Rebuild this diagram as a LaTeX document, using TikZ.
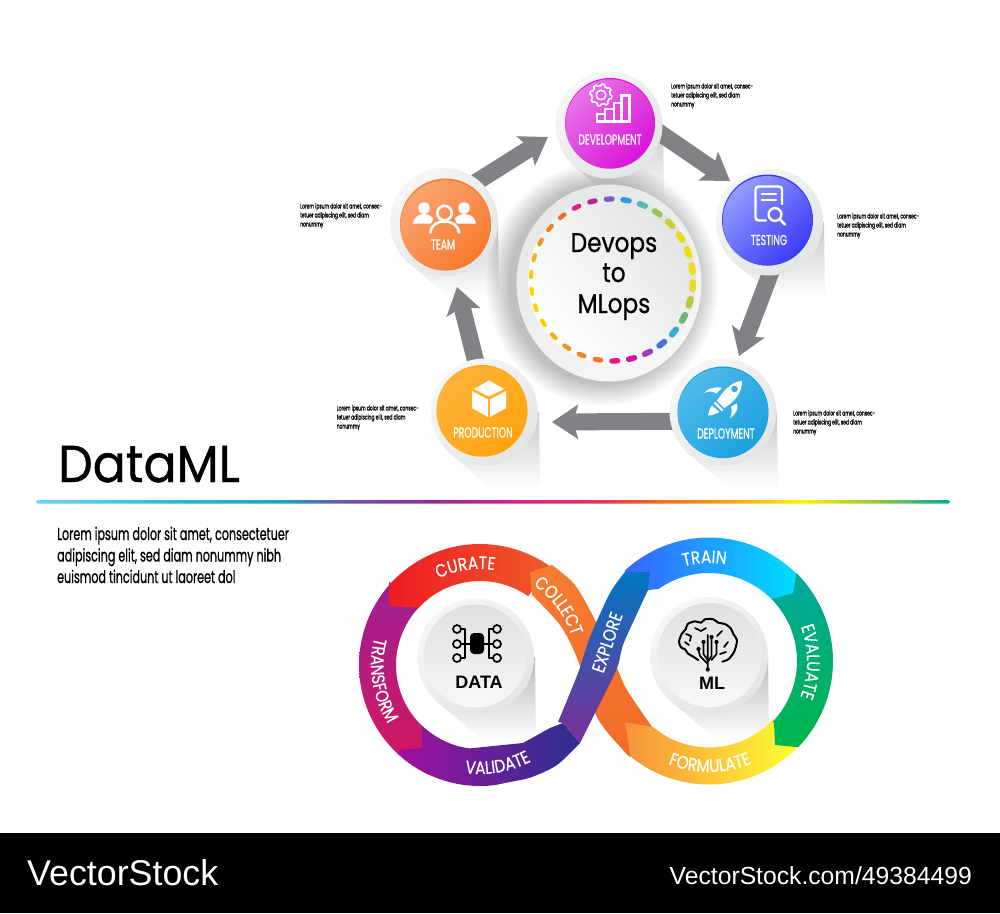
\documentclass[tikz,border=0pt]{standalone}
\usepackage{fontspec}
\setmainfont{Poppins}
\newfontfamily\cfont[FakeStretch=0.638,FakeBold=0.7]{Poppins}
\newfontfamily\ringf[FakeStretch=0.85,FakeBold=0.5]{Poppins}
\newfontfamily\hubf[FakeStretch=0.86,FakeBold=0.7]{Poppins}
\newfontfamily\titlef[FakeStretch=0.94,FakeBold=0.8]{Poppins}
\newfontfamily\af{Liberation Sans}
\usetikzlibrary{arrows.meta,decorations.text,calc,shapes.geometric}
\definecolor{barA}{HTML}{6FD3F5}\definecolor{barB}{HTML}{1FB8CF}\definecolor{barC}{HTML}{15A9BE}
\definecolor{barD}{HTML}{6A5AA8}\definecolor{barE}{HTML}{8E2E96}\definecolor{barF}{HTML}{D9208A}
\definecolor{barG}{HTML}{ED2F5A}\definecolor{barH}{HTML}{F26A21}\definecolor{barI}{HTML}{F9A21A}
\definecolor{barJ}{HTML}{FFF200}\definecolor{barK}{HTML}{8DC63F}\definecolor{barL}{HTML}{00A99D}
\definecolor{arrowgrey}{HTML}{808285}
\definecolor{rimA}{HTML}{F5F6F6}\definecolor{rimB}{HTML}{E3E5E5}
\definecolor{devD}{HTML}{D815D8}\definecolor{devL}{HTML}{E873E6}
\definecolor{teamD}{HTML}{F67A2F}\definecolor{teamL}{HTML}{FAA470}
\definecolor{testD}{HTML}{3A3CF5}\definecolor{testL}{HTML}{949CFF}
\definecolor{prodD}{HTML}{FFA412}\definecolor{prodL}{HTML}{FFB338}
\definecolor{depD}{HTML}{1BA0E0}\definecolor{depL}{HTML}{4FB9E9}
\definecolor{gE8}{HTML}{E6E8E8}\definecolor{gF6}{HTML}{F6F6F6}\definecolor{gE4}{HTML}{E2E4E4}
\definecolor{gDF}{HTML}{DFDFDF}\definecolor{gF8}{HTML}{F8F8F8}
\definecolor{trA}{HTML}{9C1F96}\definecolor{trB}{HTML}{D8175A}
\definecolor{vaA}{HTML}{A0109E}\definecolor{vaB}{HTML}{2B3090}
\definecolor{cuA}{HTML}{ED1C24}\definecolor{cuB}{HTML}{F15A29}
\definecolor{coA}{HTML}{F47D30}\definecolor{coB}{HTML}{F36A2A}
\definecolor{foA}{HTML}{F7913A}\definecolor{foB}{HTML}{FFAE2E}\definecolor{foC}{HTML}{FFFF33}
\definecolor{evA}{HTML}{00A79D}\definecolor{evB}{HTML}{00B54A}
\definecolor{trnA}{HTML}{3A63FF}\definecolor{trnB}{HTML}{00DDFF}
\definecolor{exA}{HTML}{0077C0}\definecolor{exB}{HTML}{2F63B5}\definecolor{exC}{HTML}{7E2E96}
\pgfdeclarehorizontalshading{rainbowbar}{100bp}{color(0bp)=(barA);color(25bp)=(barA);color(33.4bp)=(barB);color(38.3bp)=(barC);color(41.6bp)=(barD);color(46.5bp)=(barE);color(51.5bp)=(barF);color(55.9bp)=(barG);color(59.1bp)=(barH);color(63bp)=(barI);color(66.8bp)=(barJ);color(71.2bp)=(barK);color(75bp)=(barL);color(100bp)=(barL)}
\newcommand{\arcp}[5]{-- plot[domain=#4:#5,samples=40,variable=\t]({#1+#3*cos(\t)},{#2-#3*sin(\t)})}
\newcommand{\arcq}[5]{plot[domain=#4:#5,samples=40,variable=\t]({#1+#3*cos(\t)},{#2-#3*sin(\t)})}
\newcommand{\longshadow}[4]{\shade[top color=black!#4,bottom color=white] ({#1+#3},{#2}) -- ({#1+#3+1},{#2+1.4*#3}) -- ({#1+0.1*#3},{#2+1.4*#3}) -- ({#1-0.72*#3},{#2+0.7*#3}) -- cycle;}
\newcommand{\ringtext}[6]{\path[decorate,decoration={text along path,text align=center,text color=white,text={|\ringf\fontsize{18}{18}\selectfont|#6}}] \arcq{#1}{#2}{#3}{#4}{#5};}
\tikzset{
 x=1pt,y=-1pt,
 rimanchor/.style={circle,inner sep=0pt,minimum size=#1},
 rimdisc/.style={circle,inner sep=0pt,minimum size=#1,top color=rimA,bottom color=rimB,shading angle=40},
 lab/.style={text=white,inner sep=0pt,font=\cfont\fontsize{14.5}{14.5}\selectfont},
 smalltext/.style={anchor=north west,inner sep=0pt,align=left,text=black,font=\cfont\fontsize{7}{9}\selectfont},
 blockarrow/.style={draw=arrowgrey,line width=17pt,shorten <=-8pt,-{Stealth[length=26pt,width=34pt,inset=5pt,fill=arrowgrey]}},
 iconl/.style={draw=white,line width=#1,line cap=round,line join=round},
 darkl/.style={draw=black,line width=#1,line cap=round,line join=round},
 colordisc/.style n args={3}{circle,inner sep=0pt,minimum size=#1,top color=#2,bottom color=#3,shading angle=45},
 basedisc/.style={circle,inner sep=0pt,minimum size=#1},
 hubtext/.style={inner sep=0pt,anchor=base,font=\hubf\fontsize{27}{27}\selectfont},
 introtext/.style={inner sep=0pt,anchor=base west,font=\cfont\fontsize{17.5}{21.5}\selectfont},
}
\begin{document}
\begin{tikzpicture}
\useasboundingbox (0,0) rectangle (1000,913);
\fill[white] (0,0) rectangle (1000,913);
% long shadows
\longshadow{609}{125}{54}{22}
\longshadow{444}{222}{54}{22}
\longshadow{770}{222}{54}{22}
\longshadow{485}{412}{54}{22}
\longshadow{723}{412}{54}{22}
\longshadow{476}{657}{59}{28}
\longshadow{709}{656}{59}{28}
% halo of the central disc
\foreach \i in {1,...,16} \fill[black,fill opacity=0.014] (603,284) ellipse [x radius=92.5pt+\i*1.5pt,y radius=98pt+\i*1.5pt];
% central disc
\node[ellipse,inner sep=0pt,minimum width=185pt,minimum height=197pt,top color=gE8,bottom color=gF6,shading angle=30] (hubrim) at (609,283) {};
\node[circle,inner sep=0pt,minimum size=168pt,top color=gE4,bottom color=white,shading angle=-50] (hub) at (612,280) {};
\foreach \i/\c in {0/7B5CC0,1/2F9BE8,2/5AB5B5,3/9AC35A,4/C8CF3A,5/E8DC14,6/EEDD10,7/F0DF10,8/E8DC20,9/B8C83C,10/70B878,11/3DA9D8,12/4A6FDC,13/9A3FB8,14/D4149C,15/EE1480,16/F7762A,17/F7862A,18/F7921E,19/FBB010,20/FFCC00,21/FFD400,22/FFD400,23/FFC90E,24/FBAE17,25/F99020,26/F7802A,27/F26B30,28/ED1A8C,29/B5259E} {
  \definecolor{dashcol}{HTML}{\c}
  \pgfmathsetmacro{\ang}{92-12*\i}
  \pgfmathsetmacro{\hw}{2.05+0.25*cos(\ang)}
  \pgfmathsetmacro{\thk}{5.3+1.2*cos(\ang)}
  \draw[dashcol,line cap=round,line width=\thk pt] ({612+81*cos(\ang+\hw)},{280-81*sin(\ang+\hw)}) -- ({612+81*cos(\ang-\hw)},{280-81*sin(\ang-\hw)});
}
\node[hubtext] (hubA) at (614,252) {Devops};
\node[hubtext] (hubB) at (614,282) {to};
\node[hubtext] (hubC) at (614,313) {MLops};
% unpainted circles give the arrows their start anchors
\node[rimanchor=107pt] (dev) at (609,125) {};
\node[rimanchor=108pt] (team) at (444,222) {};
\node[rimanchor=107pt] (test) at (769.5,222) {};
\node[rimanchor=107pt] (prod) at (484.5,412) {};
\node[rimanchor=107pt] (depl) at (723,412) {};
% tips
\coordinate (tipA) at (548,137);
\coordinate (tipB) at (730,181);
\coordinate (tipC) at (739,356);
\coordinate (tipD) at (552,422);
\coordinate (tipE) at (457,287);
\draw[blockarrow] (team.50) -- (tipA);
\draw[blockarrow] (dev.-10) -- (tipB);
\draw[blockarrow] (test.-90) -- (tipC);
\draw[blockarrow] (depl.190) -- (tipD);
\draw[blockarrow] (prod.100) -- (tipE);
% rims over the shaft starts
\node[rimdisc=107pt] (devb) at (609,125) {};
\node[rimdisc=108pt] (teamb) at (444,222) {};
\node[rimdisc=107pt] (testb) at (769.5,222) {};
\node[rimdisc=107pt] (prodb) at (484.5,412) {};
\node[rimdisc=107pt] (deplb) at (723,412) {};
% coloured discs
\node[basedisc=90pt,fill=devD] (devr) at (610,123) {};
\node[colordisc={89.5pt}{devL}{devD}] (devc) at (610,124) {};
\node[basedisc=91pt,fill=teamD] (teamr) at (445.5,224) {};
\node[colordisc={90.5pt}{teamL}{teamD}] (teamc) at (445.5,225.4) {};
\node[basedisc=91pt,fill=testD] (testr) at (767.5,220) {};
\node[colordisc={89.5pt}{testL}{testD}] (testc) at (767.5,220.8) {};
\node[basedisc=91pt,fill=prodD] (prodr) at (482,410.5) {};
\node[colordisc={90.5pt}{prodL}{prodD}] (prodc) at (482,411.5) {};
\node[basedisc=91pt,fill=depD] (deplr) at (723,412) {};
\node[colordisc={90.5pt}{depL}{depD}] (deplc) at (723,413) {};
% labels
\node[lab] (ldev) at (610,139.5) {DEVELOPMENT};
\node[lab] (lteam) at (443,244.5) {TEAM};
\node[lab] (ltest) at (769,240) {TESTING};
\node[lab] (lprod) at (483,432.5) {PRODUCTION};
\node[lab] (ldepl) at (726,433.5) {DEPLOYMENT};
% development icon
\draw[iconl=1.5pt] plot[domain=0:360,samples=145,variable=\t] ({601+(9.2+1.8*(sin(8*\t)>0))*cos(\t)},{95+(9.2+1.8*(sin(8*\t)>0))*sin(\t)}) -- cycle;
\draw[iconl=1.5pt] (601,95) circle [radius=4.8pt];
\draw[iconl=2.2pt,line cap=butt,line join=miter] (597,121.5) -- (597,114) -- (605,114) -- (605,121.5) -- cycle
 (605,121.5) -- (605,109) -- (614,109) -- (614,121.5)
 (614,121.5) -- (614,103) -- (621.5,103) -- (621.5,121.5)
 (621.5,121.5) -- (621.5,95.5) -- (629.5,95.5) -- (629.5,121.5) -- (605,121.5);
% team icon
\fill[white] (424,208) circle [radius=5.8pt];
\fill[white] (464,208) circle [radius=5.8pt];
\fill[white] (413,223.5) .. controls (414,216) and (420,214) .. (424,214) .. controls (428,214) and (431,216) .. (433,218) .. controls (433,220) and (432,222) .. (431,223.5) -- cycle;
\fill[white] (476,223.5) .. controls (475,216) and (469,214) .. (464,214) .. controls (460,214) and (457,216) .. (455,218) .. controls (455,220) and (456,222) .. (457,223.5) -- cycle;
\draw[iconl=2.6pt] (444.5,213) circle [radius=7.2pt];
\draw[iconl=2.6pt] (430.5,232.5) .. controls (431,225) and (437,221.5) .. (444.5,221.5) .. controls (452,221.5) and (458,225) .. (459,232.5);
% testing icon
\draw[iconl=2.4pt] (782,204) -- (782,190) .. controls (782,187.5) and (781,186.5) .. (778.5,186.5) -- (759,186.5) .. controls (756.5,186.5) and (755.5,187.5) .. (755.5,190) -- (755.5,217) .. controls (755.5,219.5) and (756.5,220.5) .. (759,220.5) -- (766,220.5);
\draw[iconl=2.2pt] (762,194) -- (776,194) (762,200) -- (776,200);
\draw[iconl=2.4pt] (775,214.5) circle [radius=6.4pt];
\draw[iconl=2.6pt] (780,219.5) -- (785,224.5);
% production icon
\fill[white] (489,380.5) -- (504,389) -- (489,396.5) -- (474,389) -- cycle;
\fill[white] (472,391) -- (488,399.5) -- (488,417) -- (472,408) -- cycle;
\fill[white] (506,391) -- (490,399.5) -- (490,417) -- (506,408) -- cycle;
% deployment icon
\fill[white] (742,381) .. controls (735,381) and (725,387) .. (717,401) -- (724.3,408) .. controls (736,401) and (742,392) .. (742,381) -- cycle;
\fill[depD!85!white] (734.5,389) circle [radius=3.3pt];
\draw[white,line width=2.4pt] (714.5,402.5) -- (722.5,410.5);
\fill[white] (712,405.5) .. controls (710,408) and (708.5,412) .. (708,415.5) .. controls (712,415.5) and (716.5,413.5) .. (719.5,412) -- cycle;
\fill[white] (703.3,393.5) .. controls (708,388) and (715,386.5) .. (722,387.8) -- (716.5,393.5) .. controls (712,390.5) and (708,391) .. (703.3,393.5) -- cycle;
\fill[white] (736.7,403.3) .. controls (739,408) and (736,414) .. (730,418.3) .. controls (732,413) and (732,409) .. (731,406.7) -- cycle;
% small texts
\node[smalltext] (tteam) at (300,203) {Lorem ipsum dolor sit amet, consec-\\tetuer adipiscing elit, sed diam\\nonummy};
\node[smalltext] (tdev) at (671,83) {Lorem ipsum dolor sit amet, consec-\\tetuer adipiscing elit, sed diam\\nonummy};
\node[smalltext] (ttest) at (837,213) {Lorem ipsum dolor sit amet, consec-\\tetuer adipiscing elit, sed diam\\nonummy};
\node[smalltext] (tprod) at (336.5,405) {Lorem ipsum dolor sit amet, consec-\\tetuer adipiscing elit, sed diam\\nonummy};
\node[smalltext] (tdepl) at (793,410) {Lorem ipsum dolor sit amet, consec-\\tetuer adipiscing elit, sed diam\\nonummy};
% title, divider, intro
\node[inner sep=0pt,anchor=base west,font=\titlef\fontsize{52}{52}\selectfont] (title) at (58,482) {DataML};
\shade[shading=rainbowbar,rounded corners=1.7pt] (36,500) rectangle (950,503.6);
\node[introtext] (introA) at (57,540) {Lorem ipsum dolor sit amet, consectetuer};
\node[introtext] (introB) at (57,561.5) {adipiscing elit, sed diam nonummy nibh};
\node[introtext] (introC) at (57,583) {euismod tincidunt ut laoreet dol};
% infinity band
\shade[top color=trA,bottom color=trB] (389,582) \arcp{480}{665}{121}{137.6}{245} \arcp{480}{665}{84}{245}{128} -- cycle;
\shade[left color=vaA,right color=vaB] (400,750) \arcp{480}{665}{121}{227}{277} -- plot[smooth] coordinates {(515,781) (532,777) (557,765) (580,743)} -- (563,723) -- (550,728) -- (523,743) \arcp{480}{665}{84}{263}{227} -- (422,727) -- (422,748) -- cycle;
\shade[left color=cuA,right color=cuB] (389,582) \arcp{480}{665}{121}{137.6}{55} \arcp{480}{665}{84}{55}{137} -- (389,606) -- cycle;
\shade[top color=coA,bottom color=coB] (530,572) -- plot[smooth] coordinates {(552,565) (575,585) (595,620) (617,668) (627,690) (652,727)} -- plot[smooth] coordinates {(630,757) (623,750) (597,717) (577,658) (560,625) (532,595)} -- cycle;
\shade[left color=foA,middle color=foB,right color=foC] (625,722) \arcp{709}{661}{86.5}{229.7}{318} \arcp{709}{661}{123.5}{316.6}{230.5} -- cycle;
\shade[top color=evA,bottom color=evB] (797,573) \arcp{709}{661}{124}{45}{-44} -- (775,745) -- (774,723) \arcp{709}{661}{88}{-43.6}{44.5} -- cycle;
\shade[left color=trnA,right color=trnB] (625,572) \arcp{709}{661}{123.5}{133}{45} -- (793,593) -- (772,599) \arcp{709}{661}{88}{44.5}{125} -- (648,590) -- cycle;
\shade[top color=exA,middle color=exB,bottom color=exC] (650,572) -- plot[smooth] coordinates {(648,590) (635,618) (623,645) (617,668) (600,703) (580,743)} -- (563,723) -- plot[smooth] coordinates {(558,722) (578,673) (590,637) (610,593) (625,572)} -- cycle;
% ring words
\ringtext{480}{665}{96}{125}{72}{CURATE}
\ringtext{480}{665}{96}{62}{12}{COLLECT}
\ringtext{480}{665}{109}{150}{228}{TRANSFORM}
\ringtext{480}{665}{109}{250}{310}{VALIDATE}
\ringtext{709}{661}{98}{118}{67}{TRAIN}
\ringtext{709}{661}{98}{36}{-37}{EVALUATE}
\ringtext{709}{661}{111}{235}{306}{FORMULATE}
\path[decorate,decoration={text along path,text align=center,text color=white,text={|\ringf\fontsize{18}{18}\selectfont|EXPLORE}}] plot[smooth] coordinates {(594,700) (603,675) (613,645) (623,615) (635,590)};
% data and ml discs
\node[rimdisc=117pt] (datar) at (475.5,657) {};
\node[circle,inner sep=0pt,minimum size=103pt,top color=gDF,bottom color=gF8] (datac) at (475.5,656) {};
\node[rimdisc=118pt] (mlr) at (709,656) {};
\node[circle,inner sep=0pt,minimum size=104pt,top color=gDF,bottom color=gF8] (mlc) at (709.5,655) {};
% data icon
\fill[black,rounded corners=4pt] (470,633) rectangle (484,654);
\draw[darkl=1.6pt] (461,629) -- (465,629) -- (465,658) -- (461,658) (461,644) -- (470,644);
\draw[darkl=1.6pt] (493,629) -- (489,629) -- (489,658) -- (493,658) (493,644) -- (484,644);
\foreach \py/\nm in {629/a,644/b,658/c} {
  \draw[darkl=1.7pt] (457,\py) circle [radius=4pt];
  \draw[darkl=1.7pt] (497,\py) circle [radius=4pt];
}
\node[inner sep=0pt,font=\af\bfseries\fontsize{18}{18}\selectfont] (ldata) at (479,682) {DATA};
% brain icon
\draw[darkl=2pt] plot[smooth,tension=0.5] coordinates {(722.3,661.7) (728.3,659.3) (733.3,653.3) (735.7,647.3) (737,640) (733.3,634) (730.7,628.3) (725,624) (718.3,622.7) (713.3,619.3) (705,619.3) (701,622.7) (695,621.3) (687.7,624) (685.7,629.3) (681.7,634) (679,641.7) (681,647.3) (685,649.3) (687.7,653.3) (693.3,656.7) (698.3,660)};
\draw[darkl=1.7pt] (686,634) -- (691,636) -- (690,641) (685,642) -- (689,645) (695,628) -- (701,631) -- (706,628) (722,631) -- (717,636) (728,642) -- (724,647) (726,652) -- (720,654);
\draw[darkl=1.7pt] (707.7,635) -- (707.7,669) (711.5,638) -- (711.5,656) -- (707.7,662) (703.5,643) -- (703.5,654) -- (707.7,660) (698.5,650) -- (700,656) -- (707.7,664) (716.5,643) -- (716.5,654) -- (711.5,660);
\foreach \dx/\dy in {707.7/669.5,711.5/637,703.5/642,698.5/649,716.5/642} \fill[black] (\dx,\dy) circle [radius=2.1pt];
\node[inner sep=0pt,font=\af\bfseries\fontsize{18}{18}\selectfont] (lml) at (712,683) {ML};
% footer
\fill[black] (0,833) rectangle (1000,913);
\node[inner sep=0pt,anchor=base west,text=white,font=\af\fontsize{35.8}{35.8}\selectfont] (brand) at (27,885) {VectorStock};
\node[inner sep=0pt,anchor=base east,text=white,font=\af\fontsize{24.7}{24.7}\selectfont] (imgid) at (972,884) {VectorStock.com/49384499};
\end{tikzpicture}
\end{document}
